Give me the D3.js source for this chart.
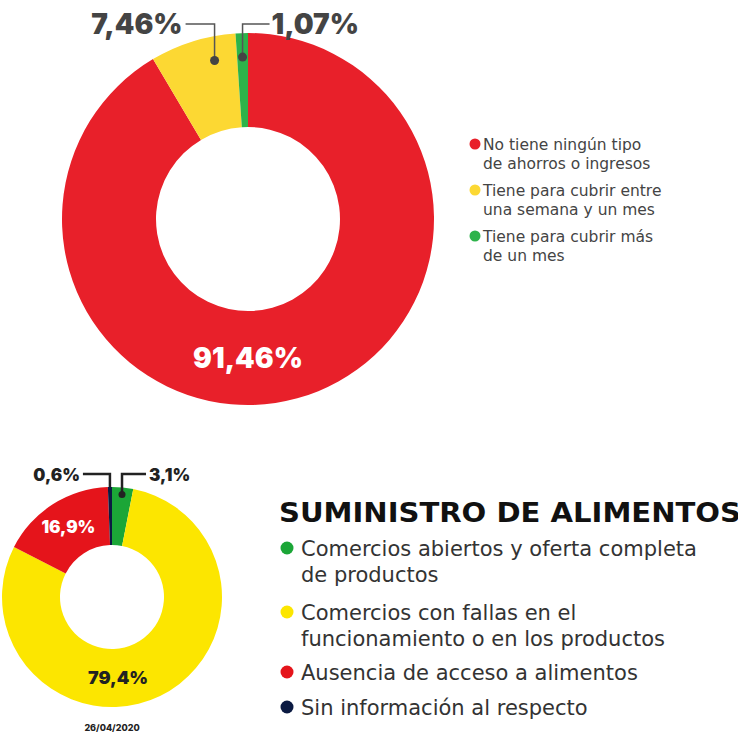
<!DOCTYPE html>
<html>
<head>
<meta charset="utf-8">
<script src="https://cdnjs.cloudflare.com/ajax/libs/d3/7.8.5/d3.min.js"></script>
<style>
  html, body { margin: 0; padding: 0; background: #fff; }
  svg text { font-family: "Inter", "DejaVu Sans", sans-serif; }
  svg text.leg { font-family: "DejaVu Sans", sans-serif; }
</style>
</head>
<body>
<div id="chart"></div>
<script>
// ahorros (top donut) - clockwise from 12 o'clock
var savingsLabels = ["No tiene ningún tipo de ahorros o ingresos",
                     "Tiene para cubrir entre una semana y un mes",
                     "Tiene para cubrir más de un mes"];
var savingsLegend = [["No tiene ningún tipo", "de ahorros o ingresos"],
                     ["Tiene para cubrir entre", "una semana y un mes"],
                     ["Tiene para cubrir más", "de un mes"]];
var savingsValues = [91.46, 7.46, 1.07];
var savingsText = ["91,46%", "7,46%", "1,07%"];
var savingsColors = ["#e8202a", "#fcd833", "#2db34a"];
var savingsLegendOrder = [0, 1, 2];

// suministro de alimentos (bottom donut)
var foodLabels = ["Comercios abiertos y oferta completa de productos",
                  "Comercios con fallas en el funcionamiento o en los productos",
                  "Ausencia de acceso a alimentos",
                  "Sin información al respecto"];
var foodLegend = [["Comercios abiertos y oferta completa", "de productos"],
                  ["Comercios con fallas en el", "funcionamiento o en los productos"],
                  ["Ausencia de acceso a alimentos"],
                  ["Sin información al respecto"]];
var foodValues = [3.1, 79.4, 16.9, 0.6];
var foodText = ["3,1%", "79,4%", "16,9%", "0,6%"];
var foodColors = ["#1ba637", "#fce600", "#e5141b", "#0b1a42"];
var foodTitle = "SUMINISTRO DE ALIMENTOS";
var foodDate = "26/04/2020";

var width = 738, height = 734;

var svg = d3.select("#chart")
    .append("svg")
    .attr("width", width)
    .attr("height", height);

var pie = d3.pie().sort(null).value(function(d) { return d; });

function polar(cx, cy, r, a) {
    return [cx + r * Math.sin(a), cy - r * Math.cos(a)];
}

// ---------- top donut ----------
var t = { cx: 248, cy: 219, r0: 92, r1: 186 };
var topArcs = pie(savingsValues);
var arcTop = d3.arc().innerRadius(t.r0).outerRadius(t.r1);

var gTop = svg.append("g");
gTop.selectAll("path")
    .data(topArcs)
    .enter()
    .append("path")
    .attr("transform", "translate(" + t.cx + "," + t.cy + ")")
    .attr("d", arcTop)
    .style("fill", function(d, i) { return savingsColors[i]; });

// big label inside at the bottom of the ring
gTop.append("text")
    .attr("x", t.cx)
    .attr("y", t.cy + (t.r0 + t.r1) / 2)
    .attr("dy", "0.35em")
    .attr("text-anchor", "middle")
    .style("font-size", "28px")
    .style("font-weight", 900)
    .style("fill", "#fff")
    .text(savingsText[0]);

// callouts for small slices
var labelY = 24;
[1, 2].forEach(function(i) {
    var d = topArcs[i];
    var a = i == 1 ? d.endAngle - 0.3 * (d.endAngle - d.startAngle) : (d.startAngle + d.endAngle) / 2;
    var p = polar(t.cx, t.cy, 162, a);
    var left = i == 1;
    var lx = left ? p[0] - 29 : p[0] + 27;
    gTop.append("path")
        .attr("d", "M" + p[0] + "," + p[1] + "V" + labelY + "H" + lx)
        .style("fill", "none")
        .style("stroke", "#555")
        .style("stroke-width", 1.5);
    gTop.append("circle")
        .attr("cx", p[0]).attr("cy", p[1]).attr("r", 4.5)
        .style("fill", "#444");
    gTop.append("text")
        .attr("x", left ? lx - 3 : lx + 2)
        .attr("y", labelY)
        .attr("dy", "0.36em")
        .attr("text-anchor", left ? "end" : "start")
        .style("font-size", "28px")
        .style("font-weight", 900)
        .style("fill", "#444")
        .text(savingsText[i]);
});

// top legend
var legTop = svg.append("g").attr("transform", "translate(475,144)");
savingsLegendOrder.forEach(function(i, k) {
    var row = legTop.append("g").attr("transform", "translate(0," + (k * 46) + ")");
    row.append("circle").attr("r", 5.5).style("fill", savingsColors[i]);
    row.selectAll("text")
        .data(savingsLegend[i])
        .enter()
        .append("text")
        .attr("class", "leg")
        .attr("x", 8)
        .attr("y", function(d, j) { return j * 19; })
        .attr("dy", "0.36em")
        .style("font-size", "15.5px")
        .style("fill", "#444")
        .text(function(d) { return d; });
});

// ---------- bottom donut ----------
var b = { cx: 112, cy: 597, r0: 52, r1: 110 };
var botArcs = pie(foodValues);
var arcBot = d3.arc().innerRadius(b.r0).outerRadius(b.r1);

var gBot = svg.append("g");
gBot.selectAll("path")
    .data(botArcs)
    .enter()
    .append("path")
    .attr("transform", "translate(" + b.cx + "," + b.cy + ")")
    .attr("d", arcBot)
    .style("fill", function(d, i) { return foodColors[i]; });

// yellow label at bottom, red at centroid
gBot.append("text")
    .attr("x", b.cx + 6)
    .attr("y", b.cy + (b.r0 + b.r1) / 2)
    .attr("dy", "0.35em")
    .attr("text-anchor", "middle")
    .style("font-size", "18px")
    .style("font-weight", 900)
    .style("fill", "#222")
    .text(foodText[1]);

var c = arcBot.centroid(botArcs[2]);
gBot.append("text")
    .attr("x", b.cx + c[0])
    .attr("y", b.cy + c[1] - 2)
    .attr("dy", "0.35em")
    .attr("text-anchor", "middle")
    .style("font-size", "17px")
    .style("font-weight", 900)
    .style("fill", "#fff")
    .text(foodText[2]);

var botLabelY = 474;
[[0, 103, false], [3, 110, true]].forEach(function(o) {
    var i = o[0], d = botArcs[i];
    var a = (d.startAngle + d.endAngle) / 2;
    var p = polar(b.cx, b.cy, o[1], a);
    var left = o[2];
    var lx = left ? p[0] - 27 : p[0] + 24;
    gBot.append("path")
        .attr("d", "M" + p[0] + "," + p[1] + "V" + botLabelY + "H" + lx)
        .style("fill", "none")
        .style("stroke", "#222")
        .style("stroke-width", 2.5);
    if (!left) {
        gBot.append("circle")
            .attr("cx", p[0]).attr("cy", p[1]).attr("r", 3.5)
            .style("fill", "#222");
    }
    gBot.append("text")
        .attr("x", left ? lx - 3 : lx + 3)
        .attr("y", botLabelY + 1)
        .attr("dy", "0.36em")
        .attr("text-anchor", left ? "end" : "start")
        .style("font-size", "17px")
        .style("font-weight", 900)
        .style("fill", "#222")
        .text(foodText[i]);
});

gBot.append("text")
    .attr("x", b.cx)
    .attr("y", 728)
    .attr("dy", "0.35em")
    .attr("text-anchor", "middle")
    .style("font-size", "9px")
    .style("font-weight", 800)
    .style("fill", "#222")
    .text(foodDate);

// title + bottom legend
svg.append("text")
    .attr("class", "leg")
    .attr("x", 279)
    .attr("y", 522)
    .attr("textLength", 462)
    .attr("lengthAdjust", "spacingAndGlyphs")
    .style("font-size", "27px")
    .style("font-weight", "bold")
    .style("fill", "#111")
    .text(foodTitle);

var legBot = svg.append("g").attr("transform", "translate(287,548)");
var rowY = [0, 64, 124, 159];
[0, 1, 2, 3].forEach(function(i, k) {
    var row = legBot.append("g").attr("transform", "translate(0," + rowY[k] + ")");
    row.append("circle").attr("r", 6.5).style("fill", foodColors[i]);
    row.selectAll("text")
        .data(foodLegend[i])
        .enter()
        .append("text")
        .attr("class", "leg")
        .attr("x", 14)
        .attr("y", function(d, j) { return j * 26.5; })
        .attr("dy", "0.36em")
        .style("font-size", "21px")
        .style("fill", "#333")
        .text(function(d) { return d; });
});
</script>
</body>
</html>
